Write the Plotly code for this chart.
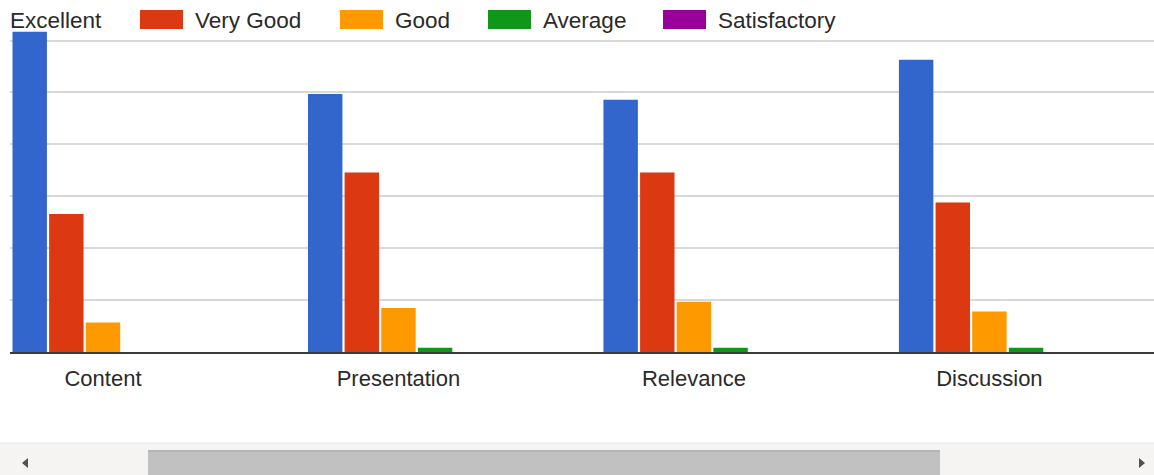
import plotly.graph_objects as go

categories = ["Content", "Presentation", "Relevance", "Discussion"]
series_names = ["Excellent", "Very Good", "Good", "Average", "Satisfactory"]
excellent = [61.7, 49.7, 48.6, 56.3]
very_good = [26.6, 34.6, 34.6, 28.8]
good = [5.7, 8.5, 9.7, 7.8]
average = [0, 0.8, 0.8, 0.8]
satisfactory = [0, 0, 0, 0]
series_values = [excellent, very_good, good, average, satisfactory]
colors = ["#3366cc", "#dc3912", "#ff9900", "#109618", "#990099"]

W, H = 1154, 475
ML, MR, MT, MB = 10, 0, 25, 123
PW, PH = W - ML - MR, H - MT - MB
FONT = "Liberation Sans, Arial, sans-serif"


def px(x):
    return (x - ML) / PW


def py(y):
    return (H - MB - y) / PH


fig = go.Figure()
for name, vals, col in zip(series_names, series_values, colors):
    fig.add_trace(go.Bar(x=list(range(len(categories))), y=vals, name=name,
                         marker=dict(color=col, line=dict(width=0)),
                         showlegend=False))

shapes = []
annotations = []

# custom legend (Google-charts style wide swatches)
swatch_x = [-45, 140, 340, 488, 663]
for name, col, sx in zip(series_names, colors, swatch_x):
    shapes.append(dict(type="rect", xref="paper", yref="paper",
                       x0=px(sx), x1=px(sx + 43), y0=py(29), y1=py(10),
                       fillcolor=col, line=dict(width=0), layer="above"))
    annotations.append(dict(xref="paper", yref="paper", x=px(sx + 53), y=py(20),
                            xanchor="left", yanchor="middle", showarrow=False,
                            text=name, font=dict(family=FONT, size=22.5, color="#2a2a2a")))

# scrollbar
shapes.append(dict(type="rect", xref="paper", yref="paper", x0=px(0), x1=px(W),
                   y0=py(H), y1=py(443), fillcolor="#f6f3f3", line=dict(width=0)))
shapes.append(dict(type="line", xref="paper", yref="paper", x0=px(0), x1=px(W),
                   y0=py(443), y1=py(443), line=dict(color="#ebe8e8", width=1)))
shapes.append(dict(type="rect", xref="paper", yref="paper", x0=px(148), x1=px(940),
                   y0=py(H), y1=py(450), fillcolor="#c1c1c1", line=dict(width=0)))
shapes.append(dict(type="rect", xref="paper", yref="paper", x0=px(148), x1=px(940),
                   y0=py(452), y1=py(450), fillcolor="#b5b5b5", line=dict(width=0)))
for (a, b) in [((28, 458), (22, 463)), ((1139, 458), (1145, 463))]:
    x_base, y_top = a
    x_tip, y_mid = b
    path = (f"M{px(x_base)},{py(y_top)} L{px(x_tip)},{py(y_mid)} "
            f"L{px(x_base)},{py(2 * y_mid - y_top)} Z")
    shapes.append(dict(type="path", xref="paper", yref="paper", path=path,
                       fillcolor="#505050", line=dict(width=0)))

fig.update_layout(
    width=W, height=H,
    margin=dict(l=ML, r=MR, t=MT, b=MB),
    paper_bgcolor="white", plot_bgcolor="white",
    barmode="group", bargap=0.38, bargroupgap=0.06,
    showlegend=False,
    shapes=shapes, annotations=annotations,
    font=dict(family=FONT, size=22, color="#2a2a2a"),
    xaxis=dict(range=[-0.3147, 3.557], tickmode="array",
               tickvals=list(range(len(categories))), ticktext=categories,
               showgrid=False, zeroline=False, showline=True,
               linecolor="#3a3a3a", linewidth=2, ticks="",
               ticklabelstandoff=6,
               tickfont=dict(family=FONT, size=22, color="#2a2a2a")),
    yaxis=dict(range=[0, 63], dtick=10, tick0=0, showticklabels=False,
               gridcolor="#d9d9d9", gridwidth=1.5, zeroline=False, ticks=""),
)

fig.write_html("out.html", config={"displayModeBar": False},
               post_script="document.body.style.margin='0';document.body.style.overflow='hidden';")
